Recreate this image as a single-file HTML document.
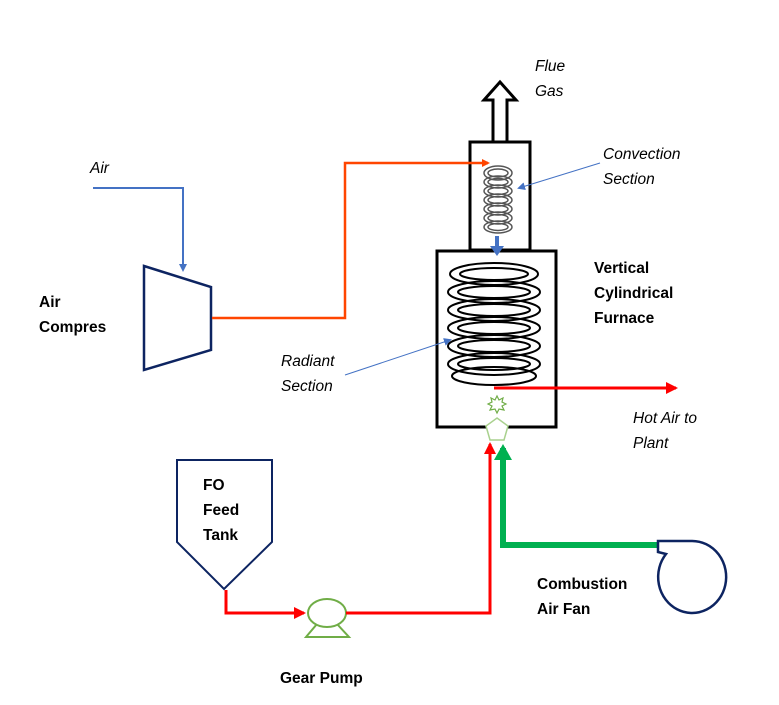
<!DOCTYPE html>
<html><head><style>body{margin:0;background:#fff}svg text{font-family:"Liberation Sans",sans-serif;font-size:15.5px;fill:#000}.b{font-weight:bold}.i{font-style:italic}</style></head><body>
<svg width="779" height="700" viewBox="0 0 779 700" xmlns="http://www.w3.org/2000/svg">
<defs>
<marker id="ab" markerWidth="8" markerHeight="8" refX="6" refY="4" orient="auto" markerUnits="userSpaceOnUse"><path d="M0,0L8,4L0,8z" fill="#4472c4"/></marker>
<marker id="ar" markerWidth="12" markerHeight="12" refX="10" refY="6" orient="auto" markerUnits="userSpaceOnUse"><path d="M0,0L12,6L0,12z" fill="#f00"/></marker>
<marker id="ao" markerWidth="8" markerHeight="8" refX="6" refY="4" orient="auto" markerUnits="userSpaceOnUse"><path d="M0,0L8,4L0,8z" fill="#ff4500"/></marker>
</defs>
<path d="M500,82 L516,100 L507,100 L507,142 L493,142 L493,100 L484,100 Z" fill="#fff" stroke="#000" stroke-width="3"/>
<rect x="470" y="142" width="60" height="108" fill="#fff" stroke="#000" stroke-width="3"/>
<rect x="437" y="251" width="119" height="176" fill="#fff" stroke="#000" stroke-width="3"/>
<g fill="none" stroke="#555" stroke-width="1.5">
<ellipse cx="498" cy="173" rx="14" ry="7"/><ellipse cx="498" cy="173" rx="10" ry="4"/>
<ellipse cx="498" cy="182" rx="14" ry="6"/><ellipse cx="498" cy="191" rx="14" ry="6"/><ellipse cx="498" cy="200" rx="14" ry="6"/><ellipse cx="498" cy="209" rx="14" ry="6"/><ellipse cx="498" cy="218" rx="14" ry="6"/><ellipse cx="498" cy="227" rx="14" ry="6"/>
<ellipse cx="498" cy="182" rx="10" ry="3.5"/><ellipse cx="498" cy="191" rx="10" ry="3.5"/><ellipse cx="498" cy="200" rx="10" ry="3.5"/><ellipse cx="498" cy="209" rx="10" ry="3.5"/><ellipse cx="498" cy="218" rx="10" ry="3.5"/><ellipse cx="498" cy="227" rx="10" ry="3.5"/>
</g>
<g fill="none" stroke="#000" stroke-width="2">
<ellipse cx="494" cy="274" rx="44" ry="11"/><ellipse cx="494" cy="274" rx="34" ry="6"/>
<ellipse cx="494" cy="292" rx="46" ry="11"/><ellipse cx="494" cy="292" rx="36" ry="6"/>
<ellipse cx="494" cy="310" rx="46" ry="11"/><ellipse cx="494" cy="310" rx="36" ry="6"/>
<ellipse cx="494" cy="328" rx="46" ry="11"/><ellipse cx="494" cy="328" rx="36" ry="6"/>
<ellipse cx="494" cy="346" rx="46" ry="11"/><ellipse cx="494" cy="346" rx="36" ry="6"/>
<ellipse cx="494" cy="364" rx="46" ry="11"/><ellipse cx="494" cy="364" rx="36" ry="6"/>
<ellipse cx="494" cy="376" rx="42" ry="9"/>
</g>
<line x1="497" y1="236" x2="497" y2="248" stroke="#4472c4" stroke-width="4"/>
<path d="M490,246 L504,246 L497,256 Z" fill="#4472c4"/>
<polyline points="93,188 183,188 183,270" fill="none" stroke="#4472c4" stroke-width="2" marker-end="url(#ab)"/>
<path d="M144,266 L211,287 L211,350 L144,370 Z" fill="#fff" stroke="#0d2461" stroke-width="2.5"/>
<polyline points="212,318 345,318 345,163 488,163" fill="none" stroke="#ff4500" stroke-width="2.5" marker-end="url(#ao)"/>
<line x1="600" y1="163" x2="519" y2="188" stroke="#4472c4" stroke-width="1" marker-end="url(#ab)"/>
<line x1="345" y1="375" x2="450" y2="340" stroke="#4472c4" stroke-width="1" marker-end="url(#ab)"/>
<line x1="494" y1="388" x2="676" y2="388" stroke="#f00" stroke-width="3" marker-end="url(#ar)"/>
<path d="M497,396 L499,400 L503,398 L502,402 L506,404 L502,406 L504,410 L499,409 L497,413 L495,409 L490,410 L492,406 L488,404 L492,402 L491,398 L495,400 Z" fill="none" stroke="#70ad47" stroke-width="1.2"/>
<path d="M497,418 L508,426 L504,440 L490,440 L486,426 Z" fill="#fff" stroke="#a9d18e" stroke-width="1.5"/>
<path d="M177,460 L272,460 L272,542 L224,589 L177,542 Z" fill="#fff" stroke="#0d2461" stroke-width="2"/>
<polyline points="226,590 226,613 304,613" fill="none" stroke="#f00" stroke-width="3" marker-end="url(#ar)"/>
<path d="M306,637 L317,624 L337,624 L349,637 Z" fill="#fff" stroke="#70ad47" stroke-width="2"/>
<ellipse cx="327" cy="613" rx="19" ry="14" fill="#fff" stroke="#70ad47" stroke-width="2"/>
<polyline points="346,613 490,613 490,444" fill="none" stroke="#f00" stroke-width="3" marker-end="url(#ar)"/>
<polyline points="659,545 503,545 503,448" fill="none" stroke="#00b050" stroke-width="6"/>
<path d="M494,460 L512,460 L503,444 Z" fill="#00b050"/>
<path d="M658,541 L692,541 A34,36 0 1 1 666,554 L658,552 Z" fill="#fff" stroke="#0d2461" stroke-width="2.5"/>
<text x="535" y="71" class="i">Flue</text><text x="535" y="96" class="i">Gas</text>
<text x="90" y="173" class="i">Air</text>
<text x="603" y="159" class="i">Convection</text><text x="603" y="184" class="i">Section</text>
<text x="594" y="273" class="b">Vertical</text><text x="594" y="298" class="b">Cylindrical</text><text x="594" y="323" class="b">Furnace</text>
<text x="39" y="307" class="b">Air</text><text x="39" y="332" class="b">Compres</text>
<text x="281" y="366" class="i">Radiant</text><text x="281" y="391" class="i">Section</text>
<text x="633" y="423" class="i">Hot Air to</text><text x="633" y="448" class="i">Plant</text>
<text x="203" y="490" class="b">FO</text><text x="203" y="515" class="b">Feed</text><text x="203" y="540" class="b">Tank</text>
<text x="537" y="589" class="b">Combustion</text><text x="537" y="614" class="b">Air Fan</text>
<text x="280" y="683" class="b">Gear Pump</text>
</svg>
</body></html>
